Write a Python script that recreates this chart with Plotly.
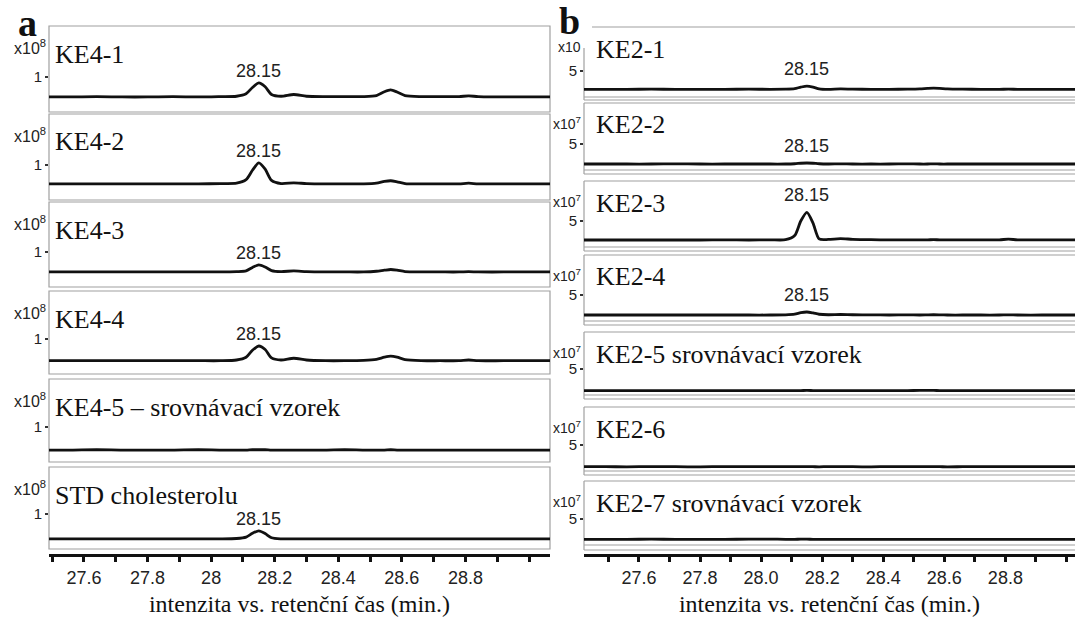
import plotly.graph_objects as go

W, H = 1075, 619

# retention time grid (min) shared by all chromatograms
rt = [27.40, 27.49, 27.56, 27.64, 27.72, 27.80, 27.88, 27.96, 28.03, 28.08, 28.11,
      28.13, 28.15, 28.17, 28.19, 28.22, 28.26, 28.30, 28.36, 28.42, 28.48, 28.52,
      28.545, 28.565, 28.585, 28.61, 28.66, 28.72, 28.78, 28.81, 28.84, 28.92, 29.07]

# panel a: intensity in units of 1e8
ke4_1 = [0.43, 0.43, 0.43, 0.44, 0.43, 0.43, 0.44, 0.43, 0.44, 0.45, 0.52,
         0.70, 0.83, 0.72, 0.50, 0.45, 0.50, 0.45, 0.44, 0.44, 0.44, 0.47,
         0.58, 0.63, 0.57, 0.47, 0.44, 0.44, 0.44, 0.46, 0.44, 0.43, 0.43]
ke4_2 = [0.46, 0.46, 0.46, 0.46, 0.46, 0.46, 0.46, 0.46, 0.47, 0.48, 0.58,
         0.85, 1.06, 0.88, 0.56, 0.47, 0.49, 0.47, 0.46, 0.46, 0.46, 0.48,
         0.53, 0.55, 0.52, 0.47, 0.46, 0.46, 0.46, 0.48, 0.46, 0.46, 0.46]
ke4_3 = [0.43, 0.43, 0.43, 0.43, 0.43, 0.43, 0.43, 0.43, 0.43, 0.44, 0.46,
         0.56, 0.63, 0.57, 0.47, 0.44, 0.46, 0.44, 0.43, 0.43, 0.43, 0.45,
         0.48, 0.50, 0.48, 0.44, 0.43, 0.43, 0.43, 0.44, 0.43, 0.43, 0.43]
ke4_4 = [0.38, 0.38, 0.38, 0.38, 0.38, 0.38, 0.38, 0.38, 0.38, 0.40, 0.48,
         0.68, 0.80, 0.70, 0.46, 0.40, 0.45, 0.40, 0.38, 0.38, 0.39, 0.42,
         0.48, 0.51, 0.48, 0.41, 0.38, 0.38, 0.38, 0.40, 0.38, 0.38, 0.38]
ke4_5 = [0.34, 0.34, 0.34, 0.35, 0.34, 0.34, 0.34, 0.35, 0.34, 0.34, 0.34,
         0.35, 0.35, 0.35, 0.34, 0.34, 0.34, 0.34, 0.34, 0.35, 0.34, 0.34,
         0.34, 0.35, 0.34, 0.34, 0.34, 0.34, 0.34, 0.34, 0.34, 0.34, 0.34]
std_chol = [0.29, 0.29, 0.29, 0.29, 0.29, 0.29, 0.29, 0.29, 0.29, 0.30, 0.34,
            0.45, 0.52, 0.44, 0.32, 0.29, 0.29, 0.29, 0.29, 0.29, 0.29, 0.29,
            0.29, 0.29, 0.29, 0.29, 0.29, 0.29, 0.29, 0.29, 0.29, 0.29, 0.29]

# panel b: intensity in units of 1e7
ke2_1 = [1.48, 1.48, 1.48, 1.50, 1.48, 1.48, 1.48, 1.50, 1.48, 1.50, 1.60,
         1.90, 2.10, 1.90, 1.55, 1.45, 1.55, 1.50, 1.48, 1.48, 1.50, 1.55,
         1.65, 1.70, 1.65, 1.55, 1.50, 1.48, 1.48, 1.50, 1.48, 1.45, 1.45]
ke2_2 = [1.15, 1.15, 1.15, 1.15, 1.18, 1.15, 1.15, 1.15, 1.15, 1.15, 1.20,
         1.30, 1.35, 1.30, 1.20, 1.15, 1.18, 1.15, 1.15, 1.15, 1.18, 1.15,
         1.15, 1.18, 1.15, 1.15, 1.15, 1.15, 1.15, 1.15, 1.15, 1.15, 1.15]
ke2_3 = [1.35, 1.35, 1.35, 1.35, 1.35, 1.35, 1.38, 1.35, 1.38, 1.40, 2.20,
         5.00, 6.67, 4.60, 1.55, 1.45, 1.62, 1.48, 1.40, 1.38, 1.38, 1.38,
         1.38, 1.40, 1.38, 1.38, 1.38, 1.38, 1.38, 1.50, 1.38, 1.38, 1.38]
ke2_4 = [1.15, 1.15, 1.15, 1.15, 1.15, 1.15, 1.15, 1.15, 1.15, 1.18, 1.30,
         1.60, 1.73, 1.55, 1.30, 1.20, 1.25, 1.20, 1.18, 1.15, 1.18, 1.15,
         1.18, 1.20, 1.18, 1.15, 1.15, 1.15, 1.15, 1.18, 1.15, 1.15, 1.15]
ke2_5 = [0.83, 0.83, 0.83, 0.85, 0.83, 0.83, 0.83, 0.85, 0.83, 0.83, 0.85,
         0.85, 0.88, 0.85, 0.83, 0.83, 0.85, 0.83, 0.83, 0.83, 0.85, 0.88,
         0.90, 0.88, 0.85, 0.83, 0.83, 0.83, 0.83, 0.85, 0.83, 0.83, 0.83]
ke2_6 = [0.83, 0.83, 0.80, 0.85, 0.83, 0.80, 0.85, 0.83, 0.83, 0.85, 0.83,
         0.83, 0.85, 0.83, 0.80, 0.85, 0.83, 0.83, 0.80, 0.85, 0.83, 0.83,
         0.85, 0.83, 0.83, 0.80, 0.83, 0.85, 0.83, 0.83, 0.85, 0.83, 0.83]
ke2_7 = [1.10, 1.10, 1.10, 1.12, 1.10, 1.10, 1.10, 1.12, 1.12, 1.10, 1.10,
         1.12, 1.12, 1.10, 1.10, 1.10, 1.10, 1.10, 1.08, 1.10, 1.10, 1.10,
         1.10, 1.10, 1.10, 1.10, 1.08, 1.10, 1.10, 1.10, 1.10, 1.10, 1.10]

names_a = ["KE4-1", "KE4-2", "KE4-3", "KE4-4", "KE4-5 – srovnávací vzorek", "STD cholesterolu"]
series_a = [ke4_1, ke4_2, ke4_3, ke4_4, ke4_5, std_chol]
peak_label_a = [True, True, True, True, False, True]

names_b = ["KE2-1", "KE2-2", "KE2-3", "KE2-4", "KE2-5 srovnávací vzorek", "KE2-6",
           "KE2-7 srovnávací vzorek"]
series_b = [ke2_1, ke2_2, ke2_3, ke2_4, ke2_5, ke2_6, ke2_7]
peak_label_b = [True, True, True, True, False, False, False]

peak_rt = 28.15

ticks_a = [27.6, 27.8, 28.0, 28.2, 28.4, 28.6, 28.8]
ticktext_a = ["27.6", "27.8", "28", "28.2", "28.4", "28.6", "28.8"]
ticktext_b = ["27.6", "27.8", "28.0", "28.2", "28.4", "28.6", "28.8"]

# ---- layout geometry (pixels) ----
A_X = (49, 550)
A_BOXES = [(26, 112), (114, 200), (202, 287), (291, 374), (379, 462), (467, 549)]
A_PX_PER_UNIT = 35.0
A_XRANGE = [27.49, 29.066]

B_X = (584, 1075)
# (top, inner bottom, outer bottom)
B_BOXES = [(27, 97, 100), (103, 170, 174), (181, 247, 251), (255, 321, 325),
           (332, 395, 399), (407, 471, 475), (481, 545, 550)]
B_PX_PER_UNIT = 5.2
B_XRANGE = [27.42, 29.028]

AXIS_Y = 555


def xp(px):
    return px / W


def yp(py):
    return 1 - py / H


fig = go.Figure()
layout = dict(
    width=W, height=H, margin=dict(l=0, r=0, t=0, b=0),
    paper_bgcolor="white", plot_bgcolor="white", showlegend=False,
)
shapes = []
annotations = []

LINE = dict(color="#111111", width=2.8)
BOX = dict(color="#a0a0a0", width=1.2)
SANS = "Liberation Sans"
SERIF = "Liberation Serif"


def axis_key(prefix, i):
    return prefix if i == 1 else f"{prefix}{i}"


idx = 0
panels = [
    (names_a, series_a, peak_label_a, A_X, A_BOXES, A_PX_PER_UNIT, A_XRANGE, 1, "1", 8, ticktext_a, 0),
    (names_b, series_b, peak_label_b, B_X, B_BOXES, B_PX_PER_UNIT, B_XRANGE, 5, "5", 7, ticktext_b, 1),
]
for (names, series, has_label, xpx, boxes, ppu, xrange, ytick, ytext, expo, ttext, side) in panels:
    n = len(names)
    for k in range(n):
        idx += 1
        xa, ya = axis_key("xaxis", idx), axis_key("yaxis", idx)
        xr, yr = axis_key("x", idx), axis_key("y", idx)
        top, bot = boxes[k][0], boxes[k][1]
        h = bot - top
        vals = series[k]
        fig.add_trace(go.Scatter(x=rt, y=vals, mode="lines", line=dict(shape="spline", smoothing=0.7, **LINE),
                                 xaxis=xr, yaxis=yr, hoverinfo="skip", cliponaxis=True))
        last = (k == n - 1)
        xdict = dict(domain=[xp(xpx[0]), xp(xpx[1])], range=xrange, showgrid=False, zeroline=False)
        if last:
            xdict.update(anchor="free", position=yp(AXIS_Y), showline=True, linecolor="#111111", linewidth=3,
                         ticks="outside", ticklen=5, tickwidth=2.5, tickcolor="#111111",
                         tickvals=ticks_a, ticktext=ttext,
                         tickfont=dict(family=SANS, size=18, color="#222222"),
                         minor=dict(dtick=0.1, tick0=27.5, ticks="outside", ticklen=5, tickwidth=2.5, tickcolor="#111111"),
                         title=dict(text="intenzita vs. retenční čas (min.)", standoff=8,
                                    font=dict(family=SERIF, size=24, color="#111111")))
        else:
            xdict.update(anchor=yr, visible=False)
        layout[xa] = xdict
        layout[ya] = dict(domain=[yp(bot), yp(top)], range=[0, h / ppu], anchor=xr,
                          showgrid=False, zeroline=False, showline=False,
                          tickvals=[ytick], ticktext=[ytext], ticks="outside", ticklen=3, tickwidth=2,
                          tickcolor="#333333", tickfont=dict(family=SANS, size=15, color="#222222"))

        # frame around each chromatogram
        if side == 0:
            shapes.append(dict(type="rect", xref="paper", yref="paper", x0=xp(xpx[0]), x1=xp(xpx[1]),
                               y0=yp(bot), y1=yp(top), line=BOX, layer="below"))
        else:
            outer = boxes[k][2]
            left_top = 48 if k == 0 else top
            top_x0 = 592 if k == 0 else xpx[0]
            segs = [((top_x0, top), (xpx[1] + 5, top)),
                    ((xpx[0], left_top), (xpx[0], outer)),
                    ((xpx[0], bot), (xpx[1] + 5, bot)),
                    ((xpx[0], outer), (xpx[1] + 5, outer))]
            for (a0, a1) in segs:
                shapes.append(dict(type="line", xref="paper", yref="paper", x0=xp(a0[0]), y0=yp(a0[1]),
                                   x1=xp(a1[0]), y1=yp(a1[1]), line=BOX, layer="below"))

        # sample name
        annotations.append(dict(text=names[k], xref="paper", yref="paper",
                                x=xp(xpx[0] + (4 if side == 0 else 10)),
                                y=yp(top + (28 if side == 0 else 22)),
                                xanchor="left", yanchor="middle", showarrow=False,
                                font=dict(family=SERIF, size=26, color="#111111")))
        # scale exponent
        exp_txt = "x10" if (side == 1 and k == 0) else f"x10<sup>{expo}</sup>"
        annotations.append(dict(text=exp_txt, xref="paper", yref="paper",
                                x=xp(xpx[0] - 1), y=yp(top + (21 if side == 0 else 20)),
                                xanchor="right", yanchor="middle", showarrow=False,
                                font=dict(family=SANS, size=16 if side == 0 else 14, color="#222222")))
        # retention time of the cholesterol peak
        if has_label[k]:
            pk = vals[rt.index(peak_rt)]
            annotations.append(dict(text=f"{peak_rt:.2f}", xref=xr, yref=yr, x=peak_rt, y=pk,
                                    xanchor="center", yanchor="bottom", yshift=(0 if side == 0 else 5),
                                    showarrow=False, font=dict(family=SANS, size=18, color="#222222")))

# panel letters
annotations.append(dict(text="<b>a</b>", xref="paper", yref="paper", x=xp(27), y=yp(23),
                        xanchor="center", yanchor="middle", showarrow=False,
                        font=dict(family=SERIF, size=38, color="#111111")))
annotations.append(dict(text="<b>b</b>", xref="paper", yref="paper", x=xp(569), y=yp(21),
                        xanchor="center", yanchor="middle", showarrow=False,
                        font=dict(family=SERIF, size=38, color="#111111")))

layout["shapes"] = shapes
layout["annotations"] = annotations
fig.update_layout(**layout)
fig.write_html("out.html")
